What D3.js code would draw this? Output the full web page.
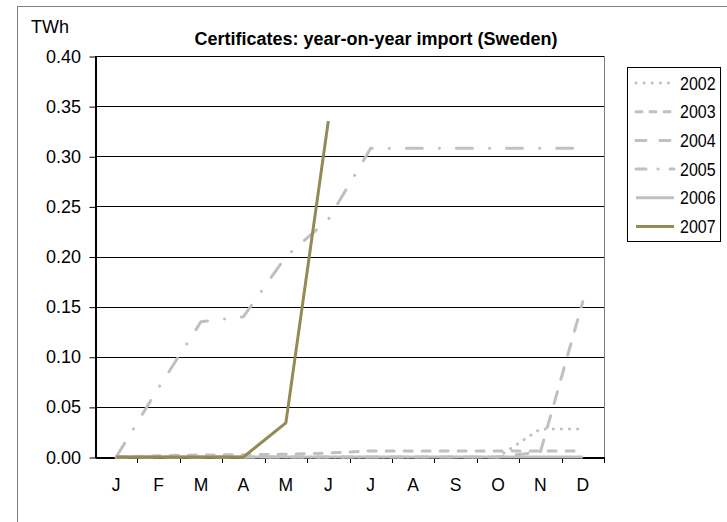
<!DOCTYPE html>
<html>
<head>
<meta charset="utf-8">
<script src="https://cdn.jsdelivr.net/npm/d3@7"></script>
<style>
  html, body { margin: 0; padding: 0; background: #fff; }
  svg { display: block; font-family: "Liberation Sans", Arial, sans-serif; }
</style>
</head>
<body>
<svg id="chart" width="727" height="522"></svg>
<script>
// ---- data ----
const months = ["J","F","M","A","M","J","J","A","S","O","N","D"];
const yTicks = [0, 0.05, 0.10, 0.15, 0.20, 0.25, 0.30, 0.35, 0.40];
const seriesNames = ["2002","2003","2004","2005","2006","2007"];
const v2002 = [0, 0, 0, 0, 0, 0, 0, 0, 0, 0, 0.028, 0.028];
const v2003 = [0, 0.0013, 0.002, 0.0023, 0.0027, 0.004, 0.006, 0.006, 0.006, 0.006, 0.006, 0.006];
const v2004 = [0, 0, 0, 0, 0, 0, 0, 0, 0, 0, 0.005, 0.155];
const v2005 = [0, 0.069, 0.135, 0.14, 0.2, 0.237, 0.308, 0.308, 0.308, 0.308, 0.308, 0.308];
const v2006 = [0, 0, 0, 0, 0, 0, 0, 0, 0, 0, 0, 0];
const v2007 = [0, 0, 0, 0, 0.034, 0.335];
const title = "Certificates: year-on-year import (Sweden)";
const unit = "TWh";

// ---- styles ----
const gray = "#c0c0c0";
const olive = "#948a54";
const styles = {
  "2002": {color: gray, dash: "0.1 8", w: 3},
  "2003": {color: gray, dash: "8 10", w: 3},
  "2004": {color: gray, dash: "12 13", w: 3},
  "2005": {color: gray, dash: "16 17 0.1 17", w: 3},
  "2006": {color: gray, dash: null, w: 3},
  "2007": {color: olive, dash: null, w: 3}
};
const values = {"2002": v2002, "2003": v2003, "2004": v2004, "2005": v2005, "2006": v2006, "2007": v2007};

const svg = d3.select("#chart");
function txt(g, x, y, s, opts) {
  const sy = (opts && opts.sy) || 1;
  const t = g.append("text")
    .attr("transform", `translate(${x},${y}) scale(1,${sy})`)
    .text(s)
    .attr("font-size", (opts && opts.size) || 15)
    .attr("fill", "#000");
  if (opts && opts.anchor) t.attr("text-anchor", opts.anchor);
  if (opts && opts.bold) t.attr("font-weight", "bold");
  return t;
}

// outer frame
svg.append("rect").attr("x", 17.5).attr("y", 6.5).attr("width", 740).attr("height", 540)
  .attr("fill", "#fff").attr("stroke", "#808080").attr("stroke-width", 1);

const pLeft = 95, pRight = 604, pTop = 56, pBottom = 457;
const x = d3.scaleBand().domain(d3.range(months.length)).range([pLeft, pRight]).padding(0);
const y = d3.scaleLinear().domain([0, 0.40]).range([pBottom, pTop]);

// gridlines
svg.append("g").selectAll("line").data(yTicks.slice(1)).join("line")
  .attr("x1", pLeft).attr("x2", pRight)
  .attr("y1", d => Math.round(y(d)) + 0.5).attr("y2", d => Math.round(y(d)) + 0.5)
  .attr("stroke", "#000").attr("stroke-width", 1);
// right border of plot area
svg.append("line").attr("x1", pRight + 0.5).attr("x2", pRight + 0.5).attr("y1", pTop).attr("y2", pBottom)
  .attr("stroke", "#808080");

// y axis
const yAxis = svg.append("g").attr("transform", `translate(${pLeft + 0.5},0.5)`)
  .call(d3.axisLeft(y).tickValues(yTicks).tickSize(6).tickFormat(d3.format(".2f")).tickSizeOuter(0));
yAxis.select(".domain").attr("stroke", "#000").attr("stroke-width", 2);
yAxis.selectAll(".tick line").attr("stroke", "#000");
yAxis.selectAll(".tick text").remove();
yTicks.forEach(d => txt(svg, 81, y(d) + 6.5, d3.format(".2f")(d), {anchor: "end", size: 18}));

// x axis
const xAxis = svg.append("g").attr("transform", `translate(0,${pBottom + 0.5})`)
  .call(d3.axisBottom(x).tickSize(0).tickFormat(""));
xAxis.select(".domain").attr("stroke", "#000").attr("stroke-width", 2);
// tick marks at band boundaries
svg.append("g").selectAll("line").data(d3.range(1, months.length + 1)).join("line")
  .attr("x1", i => Math.round(pLeft + i * x.bandwidth()) + 0.5)
  .attr("x2", i => Math.round(pLeft + i * x.bandwidth()) + 0.5)
  .attr("y1", pBottom).attr("y2", pBottom + 6).attr("stroke", "#000");
months.forEach((m, i) => txt(svg, x(i) + x.bandwidth() / 2, 491, m, {anchor: "middle", size: 17.5}));

// lines
const line = d3.line().x((d, i) => x(i) + x.bandwidth() / 2).y(d => y(d));
seriesNames.forEach(name => {
  const st = styles[name];
  const p = svg.append("path").datum(values[name])
    .attr("d", line)
    .attr("fill", "none")
    .attr("stroke", st.color)
    .attr("stroke-width", st.w)
    .attr("stroke-linejoin", "round")
    .attr("stroke-linecap", st.dash ? "round" : "butt");
  if (st.dash) p.attr("stroke-dasharray", st.dash);
});

// title & unit
txt(svg, 376, 45, title, {anchor: "middle", size: 18, bold: true});
txt(svg, 31, 33, unit, {size: 18});

// legend
const lg = svg.append("g");
lg.append("rect").attr("x", 627.5).attr("y", 67.5).attr("width", 93).attr("height", 174)
  .attr("fill", "#fff").attr("stroke", "#000");
seriesNames.forEach((name, i) => {
  const st = styles[name];
  const cy = 83 + i * 28.7;
  const l = lg.append("line").attr("x1", 636).attr("x2", 674).attr("y1", cy).attr("y2", cy)
    .attr("stroke", st.color).attr("stroke-width", st.w)
    .attr("stroke-linecap", st.dash ? "round" : "butt");
  if (st.dash) l.attr("stroke-dasharray", name === "2005" ? "10 12 0.1 12" : name === "2004" ? "10 14" : name === "2003" ? "6 8" : st.dash);
  txt(lg, 680, cy + 6.5, name, {size: 16, sy: 1.1});
});
</script>
</body>
</html>
